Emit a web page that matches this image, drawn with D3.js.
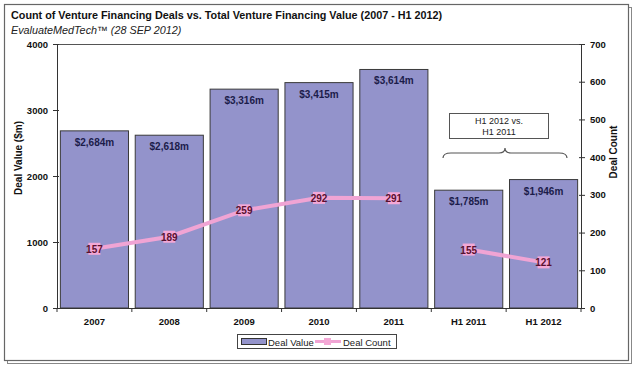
<!DOCTYPE html>
<html><head><meta charset="utf-8">
<script src="https://cdnjs.cloudflare.com/ajax/libs/d3/7.8.5/d3.min.js"></script>
<style>
body{margin:0;background:#fff;}
svg{display:block;font-family:"Liberation Sans",Arial,sans-serif;}
</style></head><body>
<svg id="c" width="635" height="368"></svg>
<script>
const categories = ["2007","2008","2009","2010","2011","H1 2011","H1 2012"];
const dealValue = [2684,2618,3316,3415,3614,1785,1946];
const dealValueLabels = ["$2,684m","$2,618m","$3,316m","$3,415m","$3,614m","$1,785m","$1,946m"];
const dealCount = [157,189,259,292,291,155,121];
const leftTicks = [0,1000,2000,3000,4000];
const rightTicks = [0,100,200,300,400,500,600,700];
const lineCats = [["2007","2008","2009","2010","2011"],["H1 2011","H1 2012"]];

const svg = d3.select("#c");
const L=57, R=581, T=44, B=308;

// frame
svg.append("rect").attr("x",7.5).attr("y",7.5).attr("width",624).attr("height",356).attr("fill","none").attr("stroke","#888").attr("stroke-width",1);
svg.append("rect").attr("x",4.5).attr("y",4.5).attr("width",624).attr("height",356).attr("fill","#fff").attr("stroke","#666").attr("stroke-width",1.2);

svg.append("text").attr("x",11).attr("y",19).attr("font-size",10.8).attr("font-weight","bold").attr("fill","#111")
  .text("Count of Venture Financing Deals vs. Total Venture Financing Value (2007 - H1 2012)");
svg.append("text").attr("x",11).attr("y",34).attr("font-size",10.8).attr("font-style","italic").attr("fill","#222")
  .text("EvaluateMedTech\u2122 (28 SEP 2012)");

const x = d3.scaleBand().domain(categories).range([L,R]).paddingInner(0.09).paddingOuter(0.045);
const yL = d3.scaleLinear().domain([0,4000]).range([B,T]);
const yR = d3.scaleLinear().domain([0,700]).range([B,T]);

// plot frame top line
svg.append("line").attr("x1",L).attr("x2",R).attr("y1",T+0.5).attr("y2",T+0.5).attr("stroke","#555").attr("stroke-width",1);

// bars
svg.append("g").selectAll("rect").data(categories).join("rect")
  .attr("x",d=>x(d)).attr("width",x.bandwidth())
  .attr("y",(d,i)=>yL(dealValue[i])).attr("height",(d,i)=>B-yL(dealValue[i]))
  .attr("fill","#9393cb").attr("stroke","#3a3a3a").attr("stroke-width",1);

svg.append("g").selectAll("text").data(categories).join("text")
  .attr("x",d=>x(d)+x.bandwidth()/2).attr("y",(d,i)=>yL(dealValue[i])+15)
  .attr("text-anchor","middle").attr("font-size",10).attr("font-weight","bold").attr("fill","#1c1c4a")
  .text((d,i)=>dealValueLabels[i]);

// axes
const axL = d3.axisLeft(yL).tickValues(leftTicks).tickFormat(d3.format("d")).tickSize(4).tickPadding(5);
const gL = svg.append("g").attr("transform",`translate(${L},0)`).call(axL);
const axR = d3.axisRight(yR).tickValues(rightTicks).tickFormat(d3.format("d")).tickSize(4).tickPadding(5);
const gR = svg.append("g").attr("transform",`translate(${R},0)`).call(axR);
const axB = d3.axisBottom(x).tickSize(0).tickPadding(10);
const gB = svg.append("g").attr("transform",`translate(0,${B})`).call(axB);
[gL,gR,gB].forEach(g=>{
  g.selectAll("text").attr("font-size",9.5).attr("font-weight","bold").attr("fill","#111").attr("font-family","Liberation Sans,Arial,sans-serif");
  g.selectAll("line,path").attr("stroke","#333");
});
gL.selectAll(".tick line").attr("x1",2);
gR.selectAll(".tick line").attr("x1",-2);
gL.select(".domain").attr("d",`M0.5,${T}V${B}`);
gR.select(".domain").attr("d",`M0.5,${T}V${B}`);
gB.select(".domain").attr("d",`M${L},0.5H${R}`);
// bottom category-boundary ticks
const bounds = categories.map(c=>x(c)-x.step()*x.paddingInner()/2).concat([R]);
svg.append("g").selectAll("line").data(bounds).join("line")
  .attr("x1",d=>d).attr("x2",d=>d).attr("y1",B).attr("y2",B+4).attr("stroke","#333");

// axis titles
svg.append("text").attr("transform",`translate(22,${(T+B)/2-18}) rotate(-90)`).attr("text-anchor","middle")
  .attr("font-size",10).attr("font-weight","bold").attr("fill","#111").text("Deal Value ($m)");
svg.append("text").attr("transform",`translate(617,${(T+B)/2-24}) rotate(-90)`).attr("text-anchor","middle")
  .attr("font-size",10).attr("font-weight","bold").attr("fill","#111").text("Deal Count");

// lines
const line = d3.line().x(d=>x(d)+x.bandwidth()/2).y(d=>yR(dealCount[categories.indexOf(d)]));
lineCats.forEach(seg=>{
  svg.append("path").attr("d",line(seg)).attr("fill","none").attr("stroke","#f0a4d4").attr("stroke-width",4);
});
svg.append("g").selectAll("rect").data(categories).join("rect")
  .attr("x",d=>x(d)+x.bandwidth()/2-6).attr("y",(d,i)=>yR(dealCount[i])-6).attr("width",12).attr("height",12)
  .attr("fill","#f4a8d6");
svg.append("g").selectAll("text").data(categories).join("text")
  .attr("x",d=>x(d)+x.bandwidth()/2).attr("y",(d,i)=>yR(dealCount[i])+4)
  .attr("text-anchor","middle").attr("font-size",10).attr("font-weight","bold").attr("fill","#5a1030")
  .text((d,i)=>dealCount[i]);

// annotation
svg.append("rect").attr("x",449.5).attr("y",113.5).attr("width",99).attr("height",25).attr("fill","#fff").attr("stroke","#555");
svg.append("text").attr("x",499).attr("y",124).attr("text-anchor","middle").attr("font-size",9).attr("fill","#222").text("H1 2012 vs.");
svg.append("text").attr("x",499).attr("y",135).attr("text-anchor","middle").attr("font-size",9).attr("fill","#222").text("H1 2011");
const bx1=443, bx2=567, bm=(bx1+bx2)/2, by=153;
svg.append("path").attr("d",`M${bx1},${by+5} Q${bx1},${by} ${bx1+8},${by} L${bm-6},${by} Q${bm},${by} ${bm},${by-5} Q${bm},${by} ${bm+6},${by} L${bx2-8},${by} Q${bx2},${by} ${bx2},${by+5}`)
  .attr("fill","none").attr("stroke","#555").attr("stroke-width",1.2);

// legend
const lg = svg.append("g");
lg.append("rect").attr("x",237.5).attr("y",334.5).attr("width",159).attr("height",14).attr("fill","#fff").attr("stroke","#444");
lg.append("rect").attr("x",241.5).attr("y",338.5).attr("width",25).attr("height",6).attr("fill","#9393cb").attr("stroke","#333");
lg.append("text").attr("x",268).attr("y",345.5).attr("font-size",9.5).attr("fill","#222").text("Deal Value");
lg.append("line").attr("x1",315).attr("x2",341).attr("y1",341.5).attr("y2",341.5).attr("stroke","#f0a4d4").attr("stroke-width",3);
lg.append("rect").attr("x",324).attr("y",338).attr("width",7).attr("height",7).attr("fill","#f4a8d6");
lg.append("text").attr("x",343).attr("y",345.5).attr("font-size",9.5).attr("fill","#222").text("Deal Count");
</script></body></html>
